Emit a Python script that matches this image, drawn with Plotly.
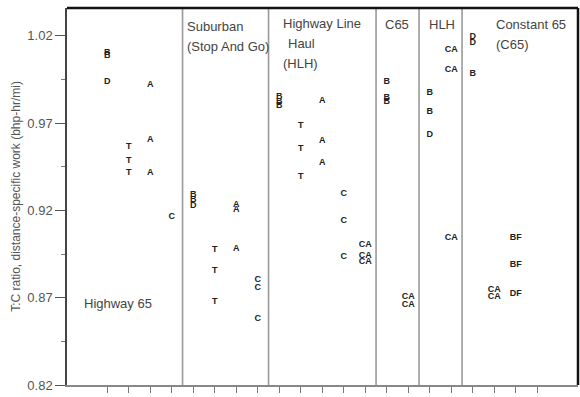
import plotly.graph_objects as go

# Column slots along the x axis (one tick per slot) and section boundaries
slots = list(range(1, 22))
section_breaks = [4.5, 8.5, 13.5, 15.5, 17.5]

# T:C ratio values, grouped by the letter code plotted at each point
b_slots = [1, 1, 5, 5, 9, 9, 9, 14, 14, 14, 16, 16, 18]
b_vals = [1.0105, 1.0085, 0.929, 0.926, 0.985, 0.9825, 0.980,
          0.9938, 0.9843, 0.9824, 0.9875, 0.9766, 0.9986]

d_slots = [1, 5, 16, 18, 18]
d_vals = [0.994, 0.9225, 0.9633, 1.0196, 1.0162]

t_slots = [2, 2, 2, 6, 6, 6, 10, 10, 10]
t_vals = [0.9566, 0.9485, 0.9417, 0.8974, 0.8855, 0.8677, 0.9684, 0.9551, 0.9394]

a_slots = [3, 3, 3, 7, 7, 7, 11, 11, 11]
a_vals = [0.9923, 0.9604, 0.9417, 0.9235, 0.9205, 0.8983, 0.9829, 0.9598, 0.9474]

c_slots = [4, 8, 8, 8, 12, 12, 12]
c_vals = [0.9165, 0.8805, 0.8755, 0.8582, 0.9295, 0.9142, 0.8935]

ca_slots = [13, 13, 13, 15, 15, 17, 17, 17, 19, 19]
ca_vals = [0.9001, 0.8941, 0.8907, 0.8706, 0.8662, 1.012, 1.0005, 0.9041, 0.8744, 0.8706]

bf_slots = [20, 20]
bf_vals = [0.9041, 0.8888]

df_slots = [20]
df_vals = [0.8721]

series = [
    ("B", b_slots, b_vals),
    ("D", d_slots, d_vals),
    ("T", t_slots, t_vals),
    ("A", a_slots, a_vals),
    ("C", c_slots, c_vals),
    ("CA", ca_slots, ca_vals),
    ("BF", bf_slots, bf_vals),
    ("DF", df_slots, df_vals),
]

# Section headings: (text, paper x of left edge, paper y of line centre)
section_labels = [
    ("Suburban", 0.233, 0.952),
    ("(Stop And Go)", 0.233, 0.899),
    ("Highway Line", 0.420, 0.958),
    ("Haul", 0.430, 0.907),
    ("(HLH)", 0.420, 0.854),
    ("C65", 0.620, 0.955),
    ("HLH", 0.706, 0.955),
    ("Constant 65", 0.837, 0.955),
    ("(C65)", 0.837, 0.902),
    ("Highway 65", 0.031, 0.215),
]

fig = go.Figure()
for code, xs, ys in series:
    fig.add_trace(go.Scatter(
        x=xs, y=ys, mode="text", text=[code] * len(xs),
        textposition="middle center",
        textfont=dict(family="Liberation Sans, Arial, sans-serif", size=9,
                      color="#222222", weight="bold"),
        name=code, showlegend=False, hoverinfo="x+y+text",
    ))

for xb in section_breaks:
    fig.add_shape(type="line", xref="x", yref="paper", x0=xb, x1=xb, y0=0, y1=1,
                  line=dict(color="#9a9a9a", width=1.6))

# heavy top and right frame edges
fig.add_shape(type="line", xref="paper", yref="paper", x0=0, x1=1, y0=1, y1=1,
              line=dict(color="#111111", width=2.5))
fig.add_shape(type="line", xref="paper", yref="paper", x0=1, x1=1, y0=0, y1=1,
              line=dict(color="#111111", width=2.5))

for text, px, py in section_labels:
    fig.add_annotation(text=text, xref="paper", yref="paper", x=px, y=py,
                       xanchor="left", yanchor="middle", showarrow=False,
                       borderpad=0,
                       font=dict(family="Liberation Sans, Arial, sans-serif",
                                 size=13, color="#444444"))

fig.update_layout(
    width=580, height=397,
    margin=dict(l=67, r=2, t=8, b=12),
    paper_bgcolor="white", plot_bgcolor="white",
    showlegend=False,
    xaxis=dict(
        range=[-0.874, 22.893], tickvals=slots, ticktext=[""] * len(slots),
        ticks="outside", ticklen=6, tickwidth=1.2, tickcolor="#777777",
        showgrid=False, zeroline=False, showline=True, linecolor="#888888",
        linewidth=1.5, fixedrange=True,
    ),
    yaxis=dict(
        range=[0.82, 1.036], tick0=0.82, dtick=0.05, tickformat=".2f",
        ticks="outside", ticklen=10, tickwidth=1.2, tickcolor="#555555",
        minor=dict(dtick=0.025, tick0=0.82, ticks="outside", ticklen=4,
                   tickcolor="#777777", showgrid=False),
        tickfont=dict(family="Liberation Sans, Arial, sans-serif", size=13,
                      color="#555555"),
        showgrid=False, zeroline=False, showline=True, linecolor="#444444",
        linewidth=1.5,
        title=dict(text="T:C ratio, distance-specific work (bhp-hr/mi)",
                   font=dict(family="Liberation Sans, Arial, sans-serif",
                             size=12, color="#555555"),
                   standoff=4),
        automargin=False,
    ),
)

fig.write_html("out.html")
